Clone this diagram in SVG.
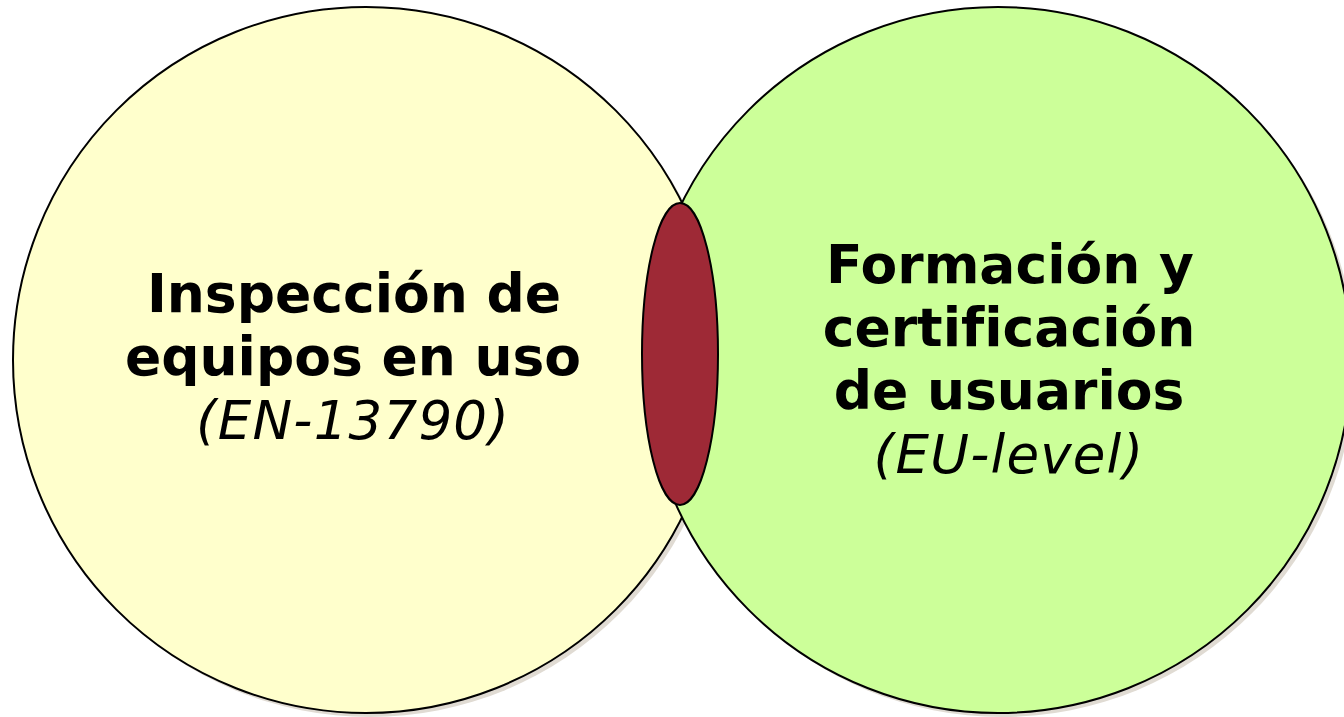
<svg xmlns="http://www.w3.org/2000/svg" width="1344" height="717" viewBox="0 0 1344 717">
<style>
.shadow{fill:#e0dbd3}
.c{stroke:#000;stroke-width:2}
.b{font-family:"DejaVu Sans",Verdana,sans-serif;font-weight:bold;font-size:53.5px;fill:#000;text-anchor:middle;font-variant-ligatures:none}
.i{font-family:"DejaVu Sans",Verdana,sans-serif;font-style:italic;font-size:53px;letter-spacing:1.2px;fill:#000;text-anchor:middle}
</style>
<g id="shadows">
<circle class="shadow" cx="370" cy="364" r="353"/>
<circle class="shadow" cx="1002" cy="364" r="353"/>
</g>
<g id="left-node">
<circle class="c" cx="366" cy="360" r="353" fill="#ffffcc"/>
</g>
<g id="right-node">
<circle class="c" cx="998" cy="360" r="353" fill="#ccff99"/>
</g>
<g id="intersection">
<ellipse class="c" cx="680" cy="354" rx="38" ry="151" fill="#9e2936"/>
</g>
<g id="left-label">
<text class="b" x="354" y="312">Inspección de</text>
<text class="b" x="353" y="375">equipos en uso</text>
<text class="i" x="353" y="439">(EN-13790)</text>
</g>
<g id="right-label">
<text class="b" x="1010" y="283">Formación y</text>
<text class="b" x="1009" y="346">certificación</text>
<text class="b" x="1009" y="409">de usuarios</text>
<text class="i" x="1009" y="473">(EU-level)</text>
</g>
<g id="connectors"></g>
</svg>
